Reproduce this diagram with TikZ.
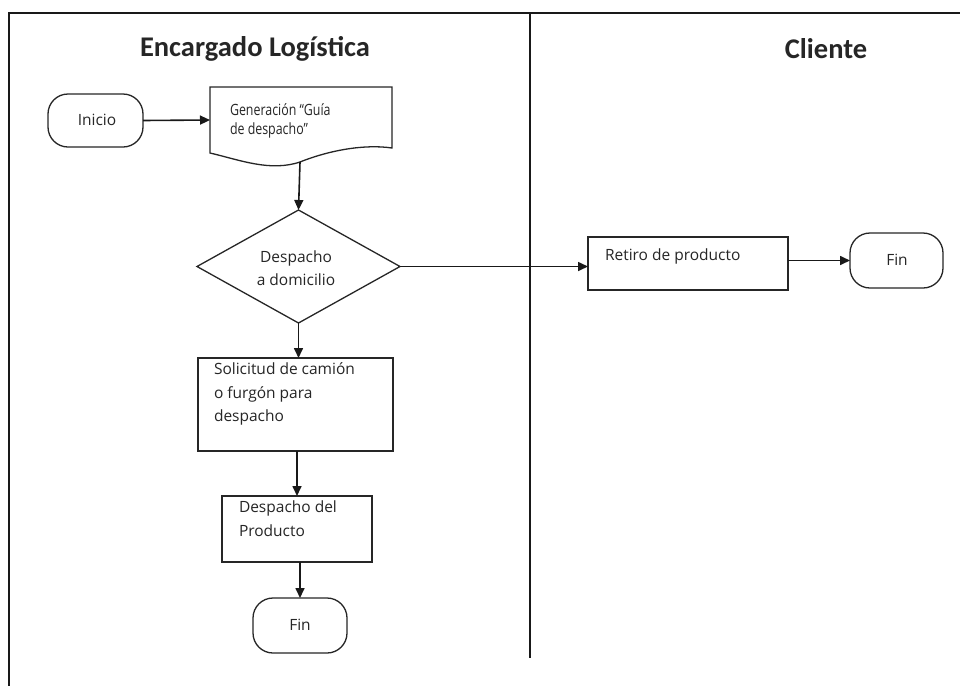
\documentclass[tikz,border=0pt]{standalone}
\usepackage{fontspec}
\setmainfont{Open Sans}
\newfontfamily\titlefont{Carlito}
\usetikzlibrary{arrows.meta,shapes.geometric}
\newcommand{\narrowline}[1]{\scalebox{0.8}[1]{#1}}
\begin{document}
\begin{tikzpicture}[x=1pt,y=-1pt,
  every node/.style={inner sep=0pt, outer sep=0pt},
  txt/.style={font=\fontsize{15.5}{23.5}\selectfont, text=black!85},
  lane/.style={font=\titlefont\bfseries\fontsize{28.5}{30}\selectfont, text=black!85},
  frame/.style={line width=2pt, black!90},
  shape line/.style={draw, line width=1.3pt, black!85, fill=white},
  term/.style={shape line, rounded corners=20pt},
  procbox/.style={shape line, rectangle},
  flow/.style={line width=1.6pt, black!90, -{Triangle[length=10pt,width=9pt]}},
]
\useasboundingbox (0,0) rectangle (960,686);

% outer frame (top and left) and lane divider
\coordinate (ftl) at (9,13);
\coordinate (ftr) at (960,13);
\coordinate (fbl) at (9,686);
\coordinate (dtop) at (530,13);
\coordinate (dbot) at (530,658);
\draw[frame] (ftr) -- (ftl) -- (fbl);
\draw[frame] (dtop) -- (dbot);

% lane titles
\node[lane] (lane1) at (255,49) {Encargado Logística};
\node[lane] (lane2) at (826,49) {Cliente};

% start terminal
\node[term, minimum width=95pt, minimum height=53pt] (inicio) at (95.5,120.5) {};
\node[txt] (inicioT) at (97,120) {Inicio};

% document: dispatch guide
\node[minimum width=182pt, minimum height=66pt] (guia) at (301,120) {};
\coordinate (guiab) at (300,162);
\draw[shape line] (guia.north west) -- (guia.north east) -- (392,148)
  .. controls (365,144) and (330,150) .. (guiab)
  .. controls (270,172) and (240,160) .. (210,153) -- cycle;
\node[txt, anchor=west] (guiaT1) at (230,110) {\narrowline{Generación “Guía}};
\node[txt, anchor=west] (guiaT2) at (230,130) {\narrowline{de despacho”}};

% decision
\node[shape line, diamond, minimum width=203pt, minimum height=113pt,
      aspect=1.8] (dec) at (298.5,266.5) {};
\node[txt, align=center] (decT) at (296,268) {Despacho\\a domicilio};

% customer side
\node[procbox, minimum width=200pt, minimum height=53pt] (retiro) at (688,263.5) {};
\node[txt, anchor=west] (retiroT) at (605,256) {Retiro de producto};
\node[term, minimum width=93pt, minimum height=55pt] (fin2) at (896.5,260.5) {};
\node[txt] (fin2T) at (897,260) {Fin};

% dispatch path
\node[procbox, minimum width=195pt, minimum height=93pt] (sol) at (295.5,404.5) {};
\node[txt, align=left, anchor=north west] (solT) at (214,363)
  {Solicitud de camión\\o furgón para\\despacho};
\node[procbox, minimum width=150pt, minimum height=66pt] (desp) at (297,529) {};
\node[txt, align=left, anchor=north west] (despT) at (239,501)
  {Despacho del\\Producto};
\node[term, minimum width=94pt, minimum height=55pt] (fin1) at (300,625.5) {};
\node[txt] (fin1T) at (300,625) {Fin};

% connectors
\draw[flow] (inicio.east) -- (guia.west);
\draw[flow] (guiab) -- (dec.north);
\draw[flow] (dec.east) -- (dec.east -| retiro.west);
\draw[flow] (retiro.east |- fin2.west) -- (fin2.west);
\draw[flow] (dec.south) -- (dec.south |- sol.north);
\draw[flow] (desp.north |- sol.south) -- (desp.north);
\draw[flow] (desp.south -| fin1.north) -- (fin1.north);
\end{tikzpicture}
\end{document}
